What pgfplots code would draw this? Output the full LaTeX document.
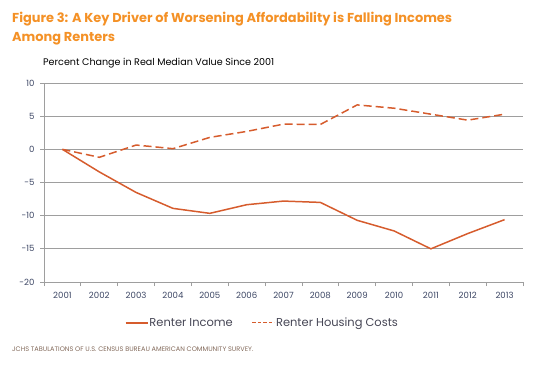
\documentclass[border=0pt]{standalone}
\usepackage{fontspec}
\setmainfont{Poppins}
\newfontfamily\titlefont{Poppins}
\usepackage{pgfplots}
\pgfplotsset{compat=1.18}
\definecolor{ln}{RGB}{214,92,45}
\definecolor{ttl}{RGB}{244,145,38}
\definecolor{grd}{RGB}{158,158,158}
\definecolor{tk}{RGB}{60,70,100}
\definecolor{lg}{RGB}{70,70,85}
\definecolor{src}{RGB}{130,105,90}
\begin{document}
\begin{tikzpicture}
\path[use as bounding box] (0bp,0bp) rectangle (541bp,-365bp);
\node[anchor=base west,text=ttl,font=\titlefont\bfseries\fontsize{13}{15}\selectfont,inner sep=0pt] at (12bp,-22bp) {Figure 3: A Key Driver of Worsening Affordability is Falling Incomes};
\node[anchor=base west,text=ttl,font=\titlefont\bfseries\fontsize{13}{15}\selectfont,inner sep=0pt] at (12bp,-41bp) {Among Renters};
\node[anchor=base west,font=\fontsize{9.6}{11}\selectfont,inner sep=0pt] at (43bp,-65bp) {Percent Change in Real Median Value Since 2001};
\node[anchor=base west,text=src,font=\fontsize{6.6}{8}\selectfont,inner sep=0pt] at (12bp,-351bp) {JCHS TABULATIONS OF U.S. CENSUS BUREAU AMERICAN COMMUNITY SURVEY.};
\begin{axis}[
  at={(44bp,-282bp)}, anchor=south west,
  width=479bp, height=199bp, scale only axis,
  xmin=-0.5, xmax=12.5, ymin=-20, ymax=10,
  ytick={-20,-15,...,10},
  xtick={0,...,12},
  xticklabels={2001,2002,2003,2004,2005,2006,2007,2008,2009,2010,2011,2012,2013},
  minor xtick={-0.5,0.5,...,12.5},
  axis x line*=bottom, axis y line*=left,
  axis line style={grd, line width=0.9pt},
  ymajorgrids, grid style={grd, line width=0.8pt},
  tick align=outside,
  major tick length=4bp, minor tick length=4bp,
  major x tick style={draw=none},
  minor x tick style={grd, line width=0.8pt},
  ytick style={grd, line width=0.8pt},
  /pgf/number format/assume math mode=true,
  ticklabel style={text=tk, font=\fontsize{8.6}{10}\selectfont},
  xticklabel style={yshift=-3bp},
  yticklabel style={xshift=-2bp},
  legend style={at={(axis description cs:0.455,-0.205)}, anchor=center, draw=none, fill=none,
    font=\fontsize{11.5}{13}\selectfont, text=lg, inner sep=0pt,
    /tikz/every even column/.append style={column sep=18bp},
    nodes={inner xsep=1bp}},
  legend columns=2,
  legend cell align=left,
]
\addplot[ln, line width=1.5pt, legend image code/.code={\draw[ln,line width=1.5pt] (0bp,0bp) -- (22bp,0bp);}] coordinates {
(0,0) (1,-3.4) (2,-6.5) (3,-8.9) (4,-9.65) (5,-8.35) (6,-7.8) (7,-8.0) (8,-10.7) (9,-12.3) (10,-15.0) (11,-12.7) (12,-10.6)};
\addlegendentry{Renter Income}
\addplot[ln, line width=1.5pt, dash pattern=on 8bp off 4bp, legend image code/.code={\draw[ln,line width=1.3pt,dash pattern=on 3.5bp off 2bp] (0bp,0bp) -- (22bp,0bp);}] coordinates {
(0,0) (1,-1.2) (2,0.65) (3,0.1) (4,1.8) (5,2.7) (6,3.8) (7,3.75) (8,6.7) (9,6.2) (10,5.3) (11,4.4) (12,5.3)};
\addlegendentry{Renter Housing Costs}
\end{axis}
\end{tikzpicture}
\end{document}
